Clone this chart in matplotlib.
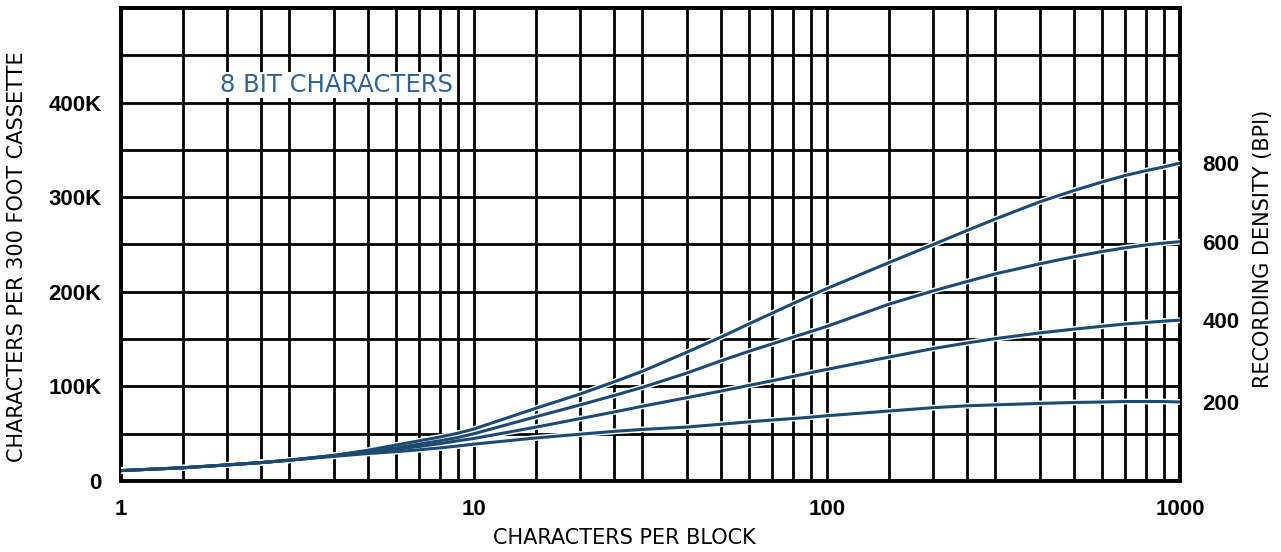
import numpy as np
import matplotlib
matplotlib.use("Agg")
import matplotlib.pyplot as plt
from matplotlib.ticker import FixedLocator, NullFormatter

# characters per block (x) and characters per 300 ft cassette, in thousands
block = [1, 1.5, 2, 2.5, 3, 4, 5, 6, 7, 8, 9, 10, 15, 20, 25, 30, 40, 50, 60,
         70, 80, 90, 100, 150, 200, 250, 300, 400, 500, 600, 700, 800, 900, 1000]
bpi_800 = [11, 14, 17, 19.5, 22, 27, 32.5, 38, 42.5, 46.5, 50.5, 55, 77, 92, 105,
           116, 136, 152, 166, 177.5, 187.5, 196, 203.5, 231, 250, 265, 277, 295, 307,
           316, 323, 328, 332, 336]
bpi_600 = [11, 14, 17, 19.5, 22, 27, 31.5, 35, 39, 42.5, 46, 50, 68, 80.5, 90.5,
           99, 114, 127, 137, 145, 152, 158, 163.5, 187, 201, 211, 219, 229.5, 237,
           242.5, 246.5, 249.5, 251.5, 253]
bpi_400 = [11, 14, 17, 19.5, 22, 26.5, 30.5, 33.5, 36.5, 39.5, 42.5, 45, 57, 66, 73,
           79, 88, 95, 101, 106, 110.5, 114.5, 118, 131, 140, 146, 150.5, 156.5, 160.5,
           163.5, 166, 167.5, 169, 170]
bpi_200 = [11, 14, 17, 19.5, 22, 26, 29, 31, 33, 35, 37, 39, 45.5, 49.5, 52.5,
           54.5, 57, 60, 62.5, 64.5, 66, 67.5, 69, 74, 77.5, 79.5, 80.5, 82, 83, 83.5,
           84, 84, 84, 83.5]
densities = ["200", "400", "600", "800"]
series = [bpi_200, bpi_400, bpi_600, bpi_800]

y_ticks = [0, 100, 200, 300, 400]
y_labels = ["0", "100K", "200K", "300K", "400K"]
x_ticks = [1, 10, 100, 1000]
x_labels = ["1", "10", "100", "1000"]

curve_color = "#1e4a72"
text_color = "#33628f"
tick_font = dict(family="Liberation Sans", weight="bold", size=16)
W, H = 1281, 552

fig = plt.figure(figsize=(W / 100, H / 100), dpi=100)
ax = fig.add_axes([121 / W, 1 - 481 / H, (1180 - 121) / W, (481 - 8) / H])

ax.set_xscale("log")
ax.set_xlim(1, 1000)
ax.set_ylim(0, 500)

# log grid like the printed chart: 1, 1.5, 2, 2.5, 3, 4 ... 9 in every decade
minor = [m * d for d in (1, 10, 100) for m in (1.5, 2, 2.5, 3, 4, 5, 6, 7, 8, 9)]
ax.xaxis.set_major_locator(FixedLocator(x_ticks))
ax.xaxis.set_minor_locator(FixedLocator(minor))
ax.xaxis.set_minor_formatter(NullFormatter())
ax.set_xticklabels(x_labels, fontdict=tick_font)
ax.yaxis.set_major_locator(FixedLocator(y_ticks))
ax.yaxis.set_minor_locator(FixedLocator(np.arange(50, 500, 100)))
ax.set_yticklabels(y_labels, fontdict=tick_font)

ax.grid(which="both", color="black", linewidth=2.0)
ax.set_axisbelow(True)
for s in ax.spines.values():
    s.set_linewidth(2.8)
ax.tick_params(which="both", length=0)
ax.tick_params(axis="x", pad=13)
ax.tick_params(axis="y", pad=14)

for vals in series:
    ax.plot(block, vals, color="white", linewidth=4.2, solid_capstyle="butt", zorder=3)
    ax.plot(block, vals, color=curve_color, linewidth=2.2, zorder=4)

fig.text(220 / W, 1 - 85 / H, "8 BIT CHARACTERS", fontsize=17.5, color=text_color,
         va="center", ha="left",
         bbox=dict(facecolor="white", edgecolor="none", pad=1.0))

fig.text(624 / W, 1 - 538 / H, "CHARACTERS PER BLOCK", fontsize=15,
         ha="center", va="center")
fig.text(17 / W, 1 - 257 / H, "CHARACTERS PER 300 FOOT CASSETTE", fontsize=15,
         ha="center", va="center", rotation=90)
fig.text(1263 / W, 1 - 249 / H, "RECORDING DENSITY (BPI)", fontsize=15,
         ha="center", va="center", rotation=90)

# right axis: density labels at each curve's end value
rax = ax.twinx()
rax.set_ylim(ax.get_ylim())
rax.set_yticks([v[-1] for v in series])
rax.set_yticklabels(densities, fontdict=tick_font)
rax.tick_params(length=0, pad=16)
for s in rax.spines.values():
    s.set_visible(False)

fig.savefig("out.png", dpi=100)
